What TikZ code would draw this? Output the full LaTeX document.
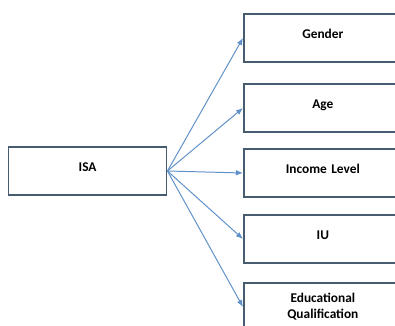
\documentclass[tikz,border=0pt]{standalone}
\usepackage{fontspec}
\setmainfont{Carlito}
\usetikzlibrary{arrows.meta, positioning}
\definecolor{boxline}{RGB}{72,92,112}
\definecolor{arrline}{RGB}{95,145,200}

\begin{document}
\begin{tikzpicture}[
  factor/.style={draw=boxline, line width=1.2pt, fill=white, minimum width=3.95cm, minimum height=1.2cm,
                 align=center, font=\fontsize{9.5}{11.5}\selectfont\bfseries, text width=3.6cm, inner sep=2pt},
  lifted/.style={text depth=0.2cm},
  arr/.style={-{Latex[length=5pt, width=4pt]}, line width=0.7pt, arrline}
]
\useasboundingbox (0,0) rectangle (9.875,8.15);
\clip (0,0) rectangle (9.875,8.15);

\node[factor, lifted] (isa) at (2.19,3.875) {ISA};

\node[factor, lifted, anchor=west] (gender) at (6.075,7.2)   {Gender};
\node[factor, lifted, anchor=west] (age)    at (6.075,5.45)  {Age};
\node[factor, lifted, anchor=west] (income) at (6.075,3.825) {Income Level};
\node[factor, lifted, anchor=west] (iu)     at (6.075,2.175) {IU};
\node[factor, anchor=west] (edu)    at (6.075,0.475) {Educational\\Qualification};

\foreach \b in {gender, age, income, iu, edu}
  \draw[arr] (isa.east) -- (\b.west);
\end{tikzpicture}
\end{document}
